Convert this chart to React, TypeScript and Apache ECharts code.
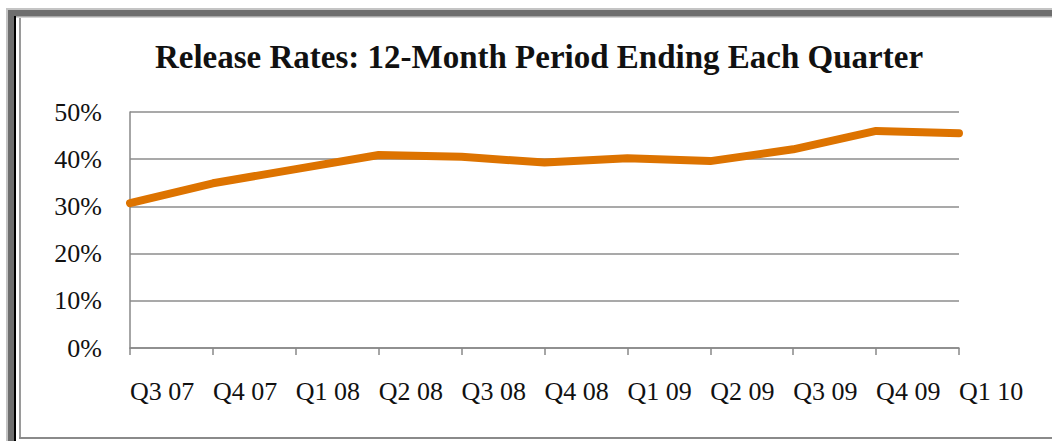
import React, { useEffect, useRef } from "react";
import * as echarts from "echarts";

const categories = ["Q3 07", "Q4 07", "Q1 08", "Q2 08", "Q3 08", "Q4 08", "Q1 09", "Q2 09", "Q3 09", "Q4 09", "Q1 10"];
const releaseRates = [30.7, 34.9, 37.9, 40.9, 40.5, 39.3, 40.2, 39.6, 42.1, 46.0, 45.5];
const titleText = "Release Rates: 12-Month Period Ending Each Quarter";

export default function App() {
  const ref = useRef<HTMLDivElement>(null);
  useEffect(() => {
    const chart = echarts.init(ref.current!, null, { renderer: "svg" });
    const font = "'Liberation Serif', 'Times New Roman', serif";
    chart.setOption({
      animation: false,
      backgroundColor: "#ffffff",
      title: {
        text: titleText,
        left: 534,
        top: 35,
        textAlign: "center",
        textStyle: { fontFamily: font, fontWeight: "bold", fontSize: 33, color: "#111" },
      },
      grid: { left: 130, right: 93, top: 112, bottom: 93, containLabel: false },
      xAxis: {
        type: "category",
        data: categories,
        boundaryGap: false,
        axisLine: { show: true, lineStyle: { color: "#888", width: 1.5 } },
        axisTick: { show: true, length: 7, lineStyle: { color: "#888", width: 1.5 } },
        axisLabel: { align: "left", margin: 30, fontFamily: font, fontSize: 26, color: "#111", interval: 0 },
        splitLine: { show: false },
      },
      yAxis: {
        type: "value",
        min: 0,
        max: 50,
        interval: 10,
        axisLine: { show: true, lineStyle: { color: "#888", width: 1.5 } },
        axisTick: { show: false },
        axisLabel: { formatter: "{value}%", margin: 28, fontFamily: font, fontSize: 26, color: "#111" },
        splitLine: { show: true, lineStyle: { color: "#8c8c8c", width: 1.5 } },
      },
      series: [
        {
          type: "line",
          data: releaseRates,
          symbol: "none",
          lineStyle: { color: "#dd7300", width: 8, cap: "round", join: "round" },
        },
      ],
      graphic: [
        { type: "rect", shape: { x: 6, y: 8, width: 1046, height: 2 }, style: { fill: "#c4c4c4" }, silent: true },
        { type: "rect", shape: { x: 6, y: 8, width: 2, height: 433 }, style: { fill: "#c4c4c4" }, silent: true },
        { type: "rect", shape: { x: 8, y: 10, width: 1044, height: 6 }, style: { fill: "#6e6e6e" }, silent: true },
        { type: "rect", shape: { x: 8, y: 10, width: 6, height: 431 }, style: { fill: "#6e6e6e" }, silent: true },
        { type: "rect", shape: { x: 14, y: 16, width: 2, height: 425 }, style: { fill: "#000000" }, silent: true },
        { type: "rect", shape: { x: 16, y: 16, width: 1036, height: 1.5 }, style: { fill: "#a8a8a8" }, silent: true },
        { type: "rect", shape: { x: 19, y: 18, width: 2, height: 420 }, style: { fill: "#9a9a9a" }, silent: true },
        { type: "rect", shape: { x: 19, y: 437, width: 1033, height: 2 }, style: { fill: "#8a8a8a" }, silent: true },
      ],
    });
    return () => chart.dispose();
  }, []);
  return <div ref={ref} style={{ position: "absolute", left: 0, top: 0, width: 1052, height: 441 }} />;
}
